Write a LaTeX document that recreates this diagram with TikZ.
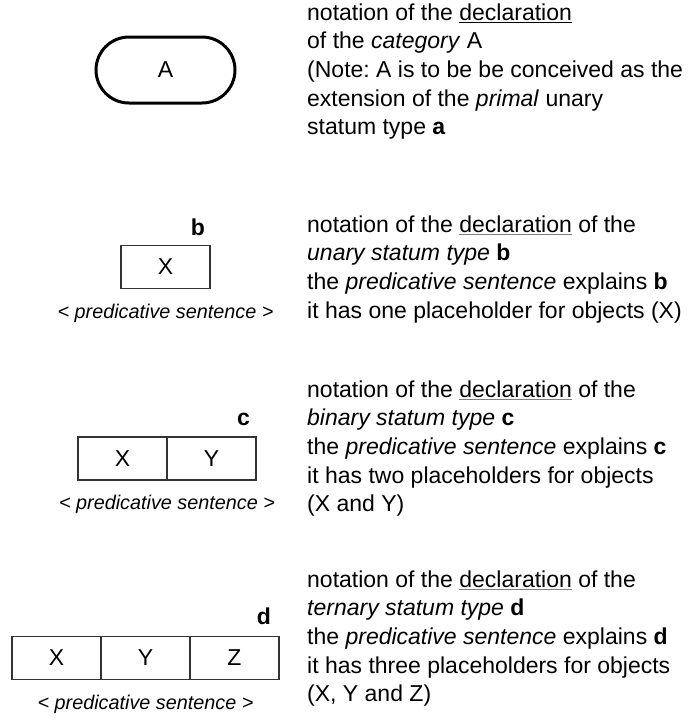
\documentclass[tikz,border=0pt]{standalone}
\usepackage{fontspec}
\setmainfont{Liberation Sans}
\usetikzlibrary{
    positioning % relative placement of nodes
}
\frenchspacing
\newcommand{\mainsize}{\fontsize{23}{28.6}\selectfont}
\newcommand{\sentsize}{\fontsize{19.8}{23}\selectfont}
\newcommand{\decl}[1][gray]{\textcolor{#1}{\underline{\textcolor{black}{declaration}}}}

\begin{document}
\begin{tikzpicture}[x=1pt,y=-1pt]
    % styles
    \tikzstyle{category} = [draw=black, line width=3pt, rounded corners=33pt,
                            minimum width=139pt, minimum height=66pt, font=\mainsize]
    \tikzstyle{cell}     = [draw=black!80, line width=1.4pt, minimum width=89pt,
                            minimum height=43pt, inner sep=0pt, outer sep=0pt, font=\mainsize]
    \tikzstyle{tag}      = [inner sep=0pt, font=\mainsize\bfseries]
    \tikzstyle{sentence} = [inner sep=0pt, font=\sentsize\itshape]
    \tikzstyle{desc}     = [anchor=north west, inner sep=0pt, align=left, font=\mainsize]
    \useasboundingbox (0,0) rectangle (691,724);
    % category A
    \node[category] (catA) at (165.5,70) {A};
    % unary statum type b
    \node[cell] (b1) at (165.5,267) {X};
    \node[tag, above left=10pt and 5pt of b1.north east] (tagb) {b};
    \node[sentence, below=15pt of b1.south] (sentb) {< predicative sentence >};
    % binary statum type c
    \node[cell] (c1) at (122.5,458.5) {X};
    \node[cell, right=0pt of c1] (c2) {Y};
    \node[tag, above left=11pt and 6pt of c2.north east] (tagc) {c};
    \node[sentence, below=15pt of c1.south east] (sentc) {< predicative sentence >};
    % ternary statum type d
    \node[cell] (d1) at (56.5,658) {X};
    \node[cell, right=0pt of d1] (d2) {Y};
    \node[cell, right=0pt of d2] (d3) {Z};
    \node[tag, above left=12pt and 8pt of d3.north east] (tagd) {d};
    \node[sentence, below=15pt of d2.south] (sentd) {< predicative sentence >};
    % explanations
    \node[desc] (descA) at (307,0) {\strut notation of the \decl[black]\\
        of the \textit{category} A\\
        (Note: A is to be be conceived as the\\
        extension of the \textit{primal} unary\\
        statum type \textbf{a}};
    \node[desc] (descb) at (307,212) {\strut notation of the \decl{} of the\\
        \textit{unary statum type} \textbf{b}\\
        the \textit{predicative sentence} explains \textbf{b}\\
        it has one placeholder for objects (X)};
    \node[desc] (descc) at (307,377) {\strut notation of the \decl{} of the\\
        \textit{binary statum type} \textbf{c}\\
        the \textit{predicative sentence} explains \textbf{c}\\
        it has two placeholders for objects\\
        (X and Y)};
    \node[desc] (descd) at (307,567) {\strut notation of the \decl{} of the\\
        \textit{ternary statum type} \textbf{d}\\
        the \textit{predicative sentence} explains \textbf{d}\\
        it has three placeholders for objects\\
        (X, Y and Z)};
\end{tikzpicture}
\end{document}
